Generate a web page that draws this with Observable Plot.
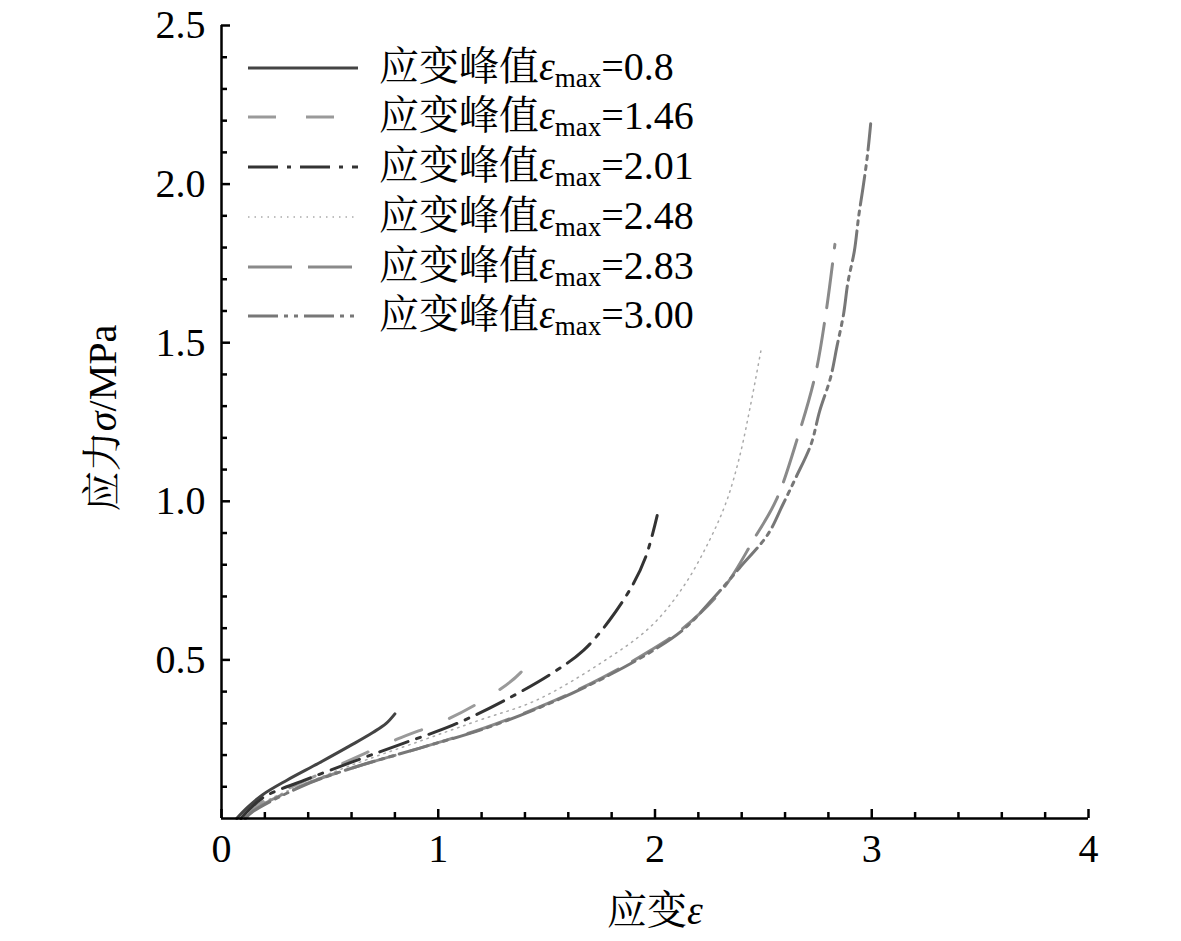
<!DOCTYPE html>
<html>
<head>
<meta charset="utf-8">
<script src="https://cdn.jsdelivr.net/npm/d3@7"></script>
<script src="https://cdn.jsdelivr.net/npm/@observablehq/plot@0.6"></script>
<style>
  html, body { margin: 0; padding: 0; background: #fff; }
  #chart { position: relative; width: 1181px; height: 941px; }
</style>
</head>
<body>
<div id="chart"></div>
<script>
// ---- data (strain ε, stress σ in MPa) ----
const seriesNames = ["0.8", "1.46", "2.01", "2.48", "2.83", "3.00"];
const s08 = [[0.07,0],[0.12,0.035],[0.19,0.075],[0.30,0.12],[0.45,0.175],[0.60,0.232],[0.70,0.272],[0.76,0.30],[0.80,0.33]];
const s146 = [[0.09,0],[0.15,0.035],[0.25,0.075],[0.35,0.108],[0.58,0.18],[0.81,0.25],[1.05,0.315],[1.27,0.40],[1.38,0.46],[1.46,0.535]];
const s201 = [[0.09,0],[0.19,0.065],[0.38,0.12],[0.61,0.18],[0.81,0.23],[1.07,0.295],[1.30,0.37],[1.53,0.46],[1.67,0.53],[1.79,0.625],[1.90,0.74],[1.96,0.83],[2.01,0.955]];
const s248 = [[0.10,0],[0.18,0.045],[0.35,0.10],[0.60,0.168],[0.92,0.245],[1.19,0.31],[1.45,0.372],[1.75,0.49],[1.98,0.605],[2.13,0.73],[2.25,0.875],[2.33,1.0],[2.39,1.14],[2.44,1.30],[2.49,1.48]];
const s283 = [[0.11,0],[0.145,0.025],[0.376,0.105],[0.607,0.16],[0.915,0.222],[1.22,0.287],[1.53,0.37],[1.76,0.445],[1.98,0.53],[2.13,0.60],[2.315,0.725],[2.46,0.885],[2.56,1.005],[2.66,1.205],[2.74,1.40],[2.79,1.60],[2.83,1.81]];
const s300 = [[0.11,0],[0.145,0.022],[0.376,0.103],[0.607,0.16],[0.915,0.222],[1.22,0.285],[1.53,0.368],[1.76,0.442],[1.98,0.525],[2.13,0.595],[2.27,0.695],[2.39,0.79],[2.52,0.895],[2.59,0.99],[2.65,1.075],[2.72,1.18],[2.76,1.285],[2.81,1.39],[2.84,1.49],[2.87,1.59],[2.89,1.69],[2.92,1.79],[2.94,1.90],[2.96,1.99],[2.98,2.09],[2.995,2.19]];

const xTicks = [0, 1, 2, 3, 4];
const yTicks = [0.5, 1.0, 1.5, 2.0, 2.5];
const xMinor = [0.2,0.4,0.6,0.8,1.2,1.4,1.6,1.8,2.2,2.4,2.6,2.8,3.2,3.4,3.6,3.8];
const yMinor = [0.1,0.2,0.3,0.4,0.6,0.7,0.8,0.9,1.1,1.2,1.3,1.4,1.6,1.7,1.8,1.9,2.1,2.2,2.3,2.4];

const xTitle = ["应变", "ε"];
const yTitle = ["应力", "σ", "/MPa"];
const legendPrefix = "应变峰值";

// ---- styles ----
const styles = [
  {data: s08,  stroke: "#444", dash: null,               width: 3},
  {data: s146, stroke: "#9a9a9a", dash: "28,30",         width: 3},
  {data: s201, stroke: "#333", dash: "30,9,4,9",          width: 3},
  {data: s248, stroke: "#aaa", dash: "1.5,5",             width: 1.5},
  {data: s283, stroke: "#8a8a8a", dash: "44,16",          width: 3},
  {data: s300, stroke: "#777", dash: "30,6,4,6,4,6",      width: 3}
];

const LATIN = "Liberation Serif";
const CJK = "Noto Serif CJK SC";

const lineMarks = styles.map(s => Plot.line(s.data, {
  x: d => d[0], y: d => d[1],
  stroke: s.stroke, strokeWidth: s.width,
  strokeDasharray: s.dash, curve: "catmull-rom"
}));

const chart = Plot.plot({
  width: 1181, height: 941,
  marginLeft: 221, marginRight: 93, marginTop: 25, marginBottom: 123,
  x: {domain: [0, 4]},
  y: {domain: [0, 2.5]},
  style: {fontSize: "40px", color: "#000", background: "#fff"},
  marks: [
    ...lineMarks,
    Plot.axisX(xMinor, {tickSize: -6, tickFormat: () => "", strokeWidth: 2.5, label: null}),
    Plot.axisX(xTicks, {tickSize: -9, tickFormat: () => "", strokeWidth: 2.5, label: null}),
    Plot.axisX(xTicks, {tickSize: 0, tickPadding: 15, tickFormat: d => String(d), label: null, fontSize: 40}),
    Plot.axisY(yMinor, {tickSize: -6, tickFormat: () => "", strokeWidth: 2.5, label: null}),
    Plot.axisY(yTicks, {tickSize: -9, tickFormat: () => "", strokeWidth: 2.5, label: null}),
    Plot.axisY(yTicks, {tickSize: 0, tickPadding: 16, tickFormat: d3.format(".1f"), label: null, fontSize: 40}),
    Plot.ruleX([0], {strokeWidth: 2.5}),
    Plot.ruleY([0], {strokeWidth: 2.5})
  ]
});

document.getElementById("chart").appendChild(chart);
d3.select(chart).selectAll("text")
  .attr("font-family", LATIN)
  .style("font-family", LATIN);

// ---- titles and legend: runs drawn as separate texts, placed by measured width ----
const svg = d3.select(chart);
const g = svg.append("g").attr("fill", "#000");

function drawRuns(parent, x0, y0, runs) {
  let x = x0;
  runs.forEach(r => {
    const fam = r.cjk ? CJK : LATIN;
    const t = parent.append("text")
      .attr("x", x).attr("y", y0 + (r.dy || 0))
      .attr("text-anchor", "start")
      .attr("font-size", r.size || 40)
      .attr("font-family", fam)
      .style("font-family", fam)
      .text(r.t);
    if (r.italic) t.attr("font-style", "italic").style("font-style", "italic");
    x += t.node().getComputedTextLength();
  });
  return x - x0;
}

function drawCentered(parent, cx, y0, runs) {
  const tmp = parent.append("g").attr("opacity", 0);
  const w = drawRuns(tmp, 0, 0, runs);
  tmp.remove();
  drawRuns(parent, cx - w / 2, y0, runs);
}

// x title
drawCentered(g, 655, 924, [{t: xTitle[0], cjk: true}, {t: xTitle[1], italic: true}]);

// y title (rotated)
const yg = g.append("g").attr("transform", "translate(116,418) rotate(-90)");
drawCentered(yg, 0, 0, [{t: yTitle[0], cjk: true}, {t: yTitle[1], italic: true}, {t: yTitle[2]}]);

// legend
const rowY = [68, 117, 167, 217, 267, 316];
const lg = g.append("g");
styles.forEach((s, i) => {
  const y = rowY[i];
  lg.append("line").attr("x1", 248).attr("x2", 358).attr("y1", y).attr("y2", y)
    .attr("stroke", s.stroke).attr("stroke-width", s.width)
    .attr("stroke-dasharray", s.dash);
  drawRuns(lg, 379, y + 12, [
    {t: legendPrefix, cjk: true},
    {t: "ε", italic: true},
    {t: "max", size: 27, dy: 7},
    {t: "=" + seriesNames[i]}
  ]);
});
</script>
</body>
</html>
